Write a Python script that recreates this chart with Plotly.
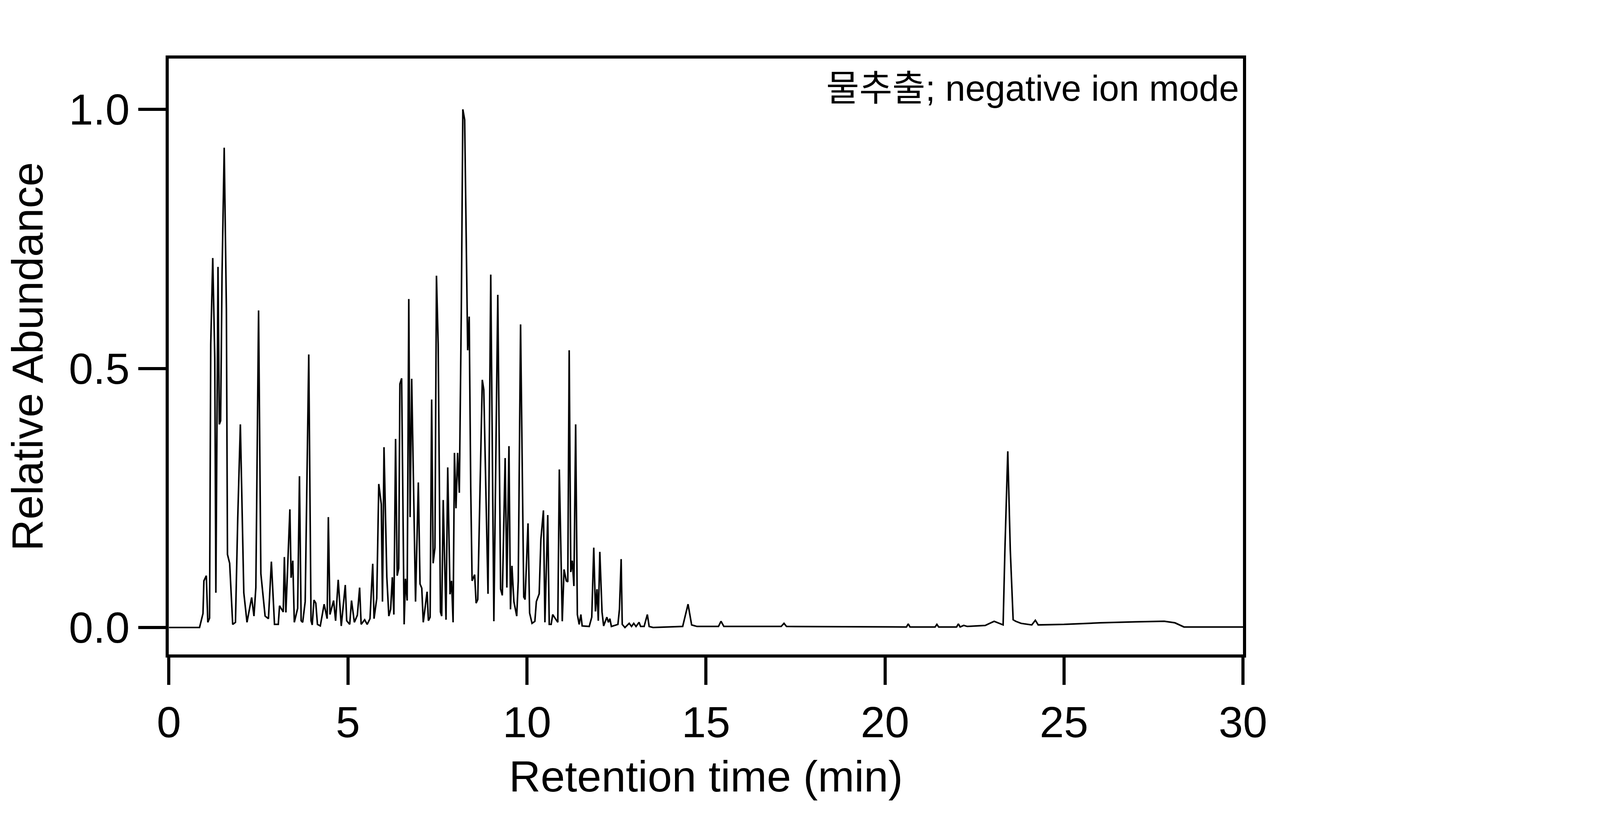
import plotly.graph_objects as go

# Early segment (0.8 - 13.3 min): vertices (raw time readings)
t_early_raw = [0.80,0.895,0.92,0.987,1.028,1.076,1.109,1.164,1.22,1.25,1.275,1.309,1.345,1.381,1.42,1.48,1.54,1.57,1.63,1.714,1.79,1.853,1.925,2.02,2.108,2.236,2.30,2.352,2.427,2.49,2.607,2.699,2.78,2.866,2.97,3.005,3.107,3.138,3.18,3.29,3.324,3.37,3.412,3.504,3.554,3.60,3.643,3.712,3.81,3.873,3.906,3.954,4.004,4.05,4.128,4.234,4.317,4.35,4.395,4.495,4.55,4.622,4.706,4.817,4.856,4.939,4.989,5.067,5.15,
 5.212,5.254,5.351,5.42,5.498,5.573,5.609,5.684,5.74,5.809,5.842,5.884,5.962,6.017,6.067,6.114,6.156,6.203,6.247,6.289,6.322,6.37,6.439,6.475,6.522,6.567,6.603,6.647,6.753,6.83,6.877,6.925,6.966,7.072,7.108,7.155,7.197,7.238,7.288,7.33,7.377,7.44,7.474,7.516,7.593,7.64,7.704,7.746,7.788,7.826,7.868,7.913,7.96,8.015,8.057,8.107,8.154,8.19,8.232,8.274,8.312,8.382,8.423,8.468,8.593,8.634,8.751,8.826,8.912,9.02,9.098,9.145,9.223,9.27,9.328,
 9.37,9.41,9.464,9.542,9.584,9.648,9.703,9.736,9.772,9.853,9.897,9.964,10.042,10.083,10.161,10.208,10.278,10.319,10.397,10.438,10.491,10.533,10.674,10.716,10.797,10.846,10.908,10.949,10.988,11.032,11.074,11.118,11.166,11.213,11.263,11.31,11.346,11.54,11.61,11.665,11.712,11.754,11.79,11.832,11.893,11.937,12.026,12.068,12.109,12.151,12.331,12.373,12.42,12.45,12.525,12.642,12.706,12.767,12.83,12.914,12.956,13.053,13.142,13.192,13.3]
v_early = [0,0.027,0.09,0.10,0.01,0.018,0.547,0.713,0.52,0.067,0.345,0.696,0.392,0.399,0.68,0.926,0.614,0.141,0.124,0.006,0.01,0.211,0.392,0.067,0.01,0.058,0.022,0.077,0.612,0.104,0.022,0.017,0.127,0.006,0.006,0.042,0.03,0.136,0.029,0.228,0.096,0.129,0.01,0.037,0.292,0.013,0.01,0.05,0.527,0.013,0.005,0.053,0.047,0.006,0.003,0.045,0.017,0.213,0.025,0.052,0.013,0.092,0.003,0.082,0.013,0.006,0.052,0.01,0.024,
 0.077,0.006,0.015,0.006,0.017,0.123,0.017,0.056,0.277,0.238,0.05,0.348,0.097,0.022,0.035,0.097,0.025,0.364,0.1,0.114,0.47,0.481,0.006,0.094,0.052,0.634,0.213,0.48,0.05,0.28,0.084,0.076,0.01,0.069,0.013,0.02,0.44,0.124,0.154,0.679,0.547,0.03,0.022,0.246,0.015,0.309,0.064,0.09,0.01,0.337,0.23,0.337,0.26,0.614,1.0,0.98,0.721,0.535,0.6,0.272,0.09,0.102,0.047,0.054,0.478,0.459,0.065,0.681,0.012,0.642,0.074,0.062,0.327,0.077,0.35,
 0.035,0.119,0.05,0.022,0.09,0.585,0.215,0.059,0.054,0.201,0.028,0.008,0.012,0.05,0.065,0.17,0.226,0.01,0.217,0.006,0.006,0.025,0.01,0.305,0.012,0.112,0.09,0.088,0.535,0.107,0.129,0.08,0.392,0.025,0.006,0.025,0.003,0.002,0.02,0.154,0.031,0.074,0.013,0.146,0.03,0.003,0.02,0.01,0.017,0.002,0.006,0.035,0.132,0.006,0,0.008,0.002,0.008,0.002,0.01,0.002,0.002,0.025,0.002,0]

# Late segment (after 13.3 min)
t_late = [14.35,14.5,14.6,14.75,15.35,15.42,15.5,17.1,17.18,17.25,19.8,20.6,20.65,20.7,21.4,21.45,21.5,22.0,22.05,22.1,22.2,22.3,22.8,23.05,23.3,23.35,23.43,23.5,23.58,23.65,23.8,24.1,24.2,24.28,25.0,26.0,27.0,27.8,28.1,28.35,30.0]
v_late = [0.002,0.045,0.005,0.002,0.002,0.012,0.002,0.002,0.008,0.002,0.001,0.001,0.007,0.001,0.001,0.006,0.001,0.001,0.007,0.001,0.004,0.002,0.004,0.012,0.005,0.15,0.34,0.15,0.015,0.012,0.008,0.005,0.014,0.005,0.006,0.009,0.011,0.012,0.009,0.001,0.001]

# calibration of zoom-read times against the full view
t_early = [t * 1.0134 + 0.045 for t in t_early_raw]

t_all = [0.0] + t_early + t_late
v_all = [0.0] + v_early + v_late

x_ticks = [0, 5, 10, 15, 20, 25, 30]
y_ticks = [0.0, 0.5, 1.0]
y_ticktext = ["0.0", "0.5", "1.0"]

FONT = "Liberation Sans, Arial, sans-serif"

fig = go.Figure()
fig.add_trace(go.Scatter(x=t_all, y=v_all, mode="lines",
                         line=dict(color="black", width=4), showlegend=False))

axis_common = dict(showline=True, linecolor="black", linewidth=8, mirror=True,
                   ticks="outside", ticklen=70, tickwidth=8, tickcolor="black",
                   showgrid=False, zeroline=False,
                   tickfont=dict(family=FONT, size=112, color="black"))

fig.update_xaxes(range=[0, 30], tickvals=x_ticks, ticktext=[str(v) for v in x_ticks],
                 domain=[592 / 6000, 4730 / 6000],
                 title=dict(text="Retention time (min)", font=dict(family=FONT, size=112, color="black"),
                            standoff=40),
                 **axis_common)
fig.update_yaxes(range=[-0.052, 1.098], tickvals=y_ticks, ticktext=y_ticktext,
                 domain=[1 - 1668 / 2100, 1 - 142 / 2100],
                 title=dict(text="Relative Abundance", font=dict(family=FONT, size=112, color="black"),
                            standoff=40),
                 **axis_common)

fig.add_annotation(text="물추출; negative ion mode", xref="x domain", yref="y domain",
                   x=0.997, y=0.985, xanchor="right", yanchor="top", showarrow=False,
                   font=dict(family="Liberation Sans, Noto Sans CJK KR, sans-serif", size=92, color="black"))

fig.update_layout(autosize=True, plot_bgcolor="white", paper_bgcolor="white",
                  margin=dict(l=0, r=0, t=0, b=0))

fig.write_html("out.html", default_width="100%", default_height="100vh", config={"responsive": True})
